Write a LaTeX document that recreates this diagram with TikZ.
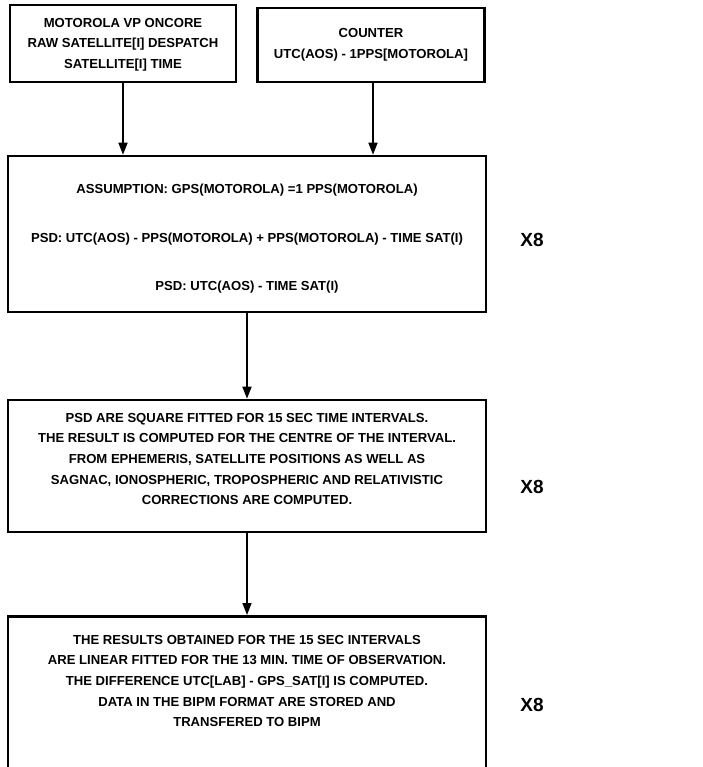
\documentclass[tikz,border=0pt]{standalone}
\usepackage{fontspec}
\setmainfont{Liberation Sans}
\usetikzlibrary{arrows.meta, positioning}

\begin{document}
\begin{tikzpicture}[x=1pt, y=-1pt, >={Triangle[length=12pt, width=9pt]},
  box/.style={draw, line width=2.6pt, inner sep=0pt, minimum width=478pt},
  boxtext/.style={align=center, inner sep=0pt, font=\fontsize{13.1}{20.6}\selectfont\bfseries},
  flow/.style={->, line width=1.6pt},
  times/.style={font=\fontsize{19}{22}\selectfont\bfseries}]
  \useasboundingbox (0,0) rectangle (702,767);
  \clip (0,0) rectangle (702,767);

  % ---- Input boxes ----
  \node[box, minimum width=226pt, minimum height=77pt] (rcv) at (123,43.5) {};
  \node[boxtext] (rcvtxt) at (123,44.5) {MOTOROLA VP ONCORE\\RAW SATELLITE[I] DESPATCH\\SATELLITE[I] TIME};
  \node[box, minimum width=227pt, minimum height=74pt] (cnt) at (371,45) {};
  \node[boxtext] (cnttxt) at (371,44.5) {COUNTER\\UTC(AOS) - 1PPS[MOTOROLA]};

  % ---- Pseudo range difference ----
  \node[box, minimum height=156pt] (psd) at (247,234) {};
  \node[boxtext] (psdtxt) at (247,239) {ASSUMPTION: GPS(MOTOROLA) =1 PPS(MOTOROLA)\\[28pt]
    PSD: UTC(AOS) - PPS(MOTOROLA) + PPS(MOTOROLA) - TIME SAT(I)\\[28pt]
    PSD: UTC(AOS) - TIME SAT(I)};

  % ---- Square fit, 15 s ----
  \node[box, minimum height=132pt] (fit) at (247,466) {};
  \node[boxtext] (fittxt) at (247,459) {PSD ARE SQUARE FITTED FOR 15 SEC TIME INTERVALS.\\
    THE RESULT IS COMPUTED FOR THE CENTRE OF THE INTERVAL.\\
    FROM EPHEMERIS, SATELLITE POSITIONS AS WELL AS\\
    SAGNAC, IONOSPHERIC, TROPOSPHERIC AND RELATIVISTIC\\
    CORRECTIONS ARE COMPUTED.};

  % ---- Linear fit, 13 min (runs off the page) ----
  \node[box, minimum height=175pt, anchor=north] (lin) at (247,615) {};
  \node[boxtext] (lintxt) at (247,681) {THE RESULTS OBTAINED FOR THE 15 SEC INTERVALS\\
    ARE LINEAR FITTED FOR THE 13 MIN. TIME OF OBSERVATION.\\
    THE DIFFERENCE UTC[LAB] - GPS\_SAT[I] IS COMPUTED.\\
    DATA IN THE BIPM FORMAT ARE STORED AND\\
    TRANSFERED TO BIPM};

  % ---- Repeat marks ----
  \node[times] (rep1) at (532,240) {X8};
  \node[times] (rep2) at (532,487) {X8};
  \node[times] (rep3) at (532,705) {X8};

  % ---- Flow ----
  \draw[flow] (rcv.south) -- (rcv.south |- psd.north);
  \draw[flow] ([xshift=2pt]cnt.south) -- ([xshift=2pt]cnt.south |- psd.north);
  \draw[flow] (psd.south) -- (fit.north);
  \draw[flow] (fit.south) -- (lin.north);
\end{tikzpicture}
\end{document}
